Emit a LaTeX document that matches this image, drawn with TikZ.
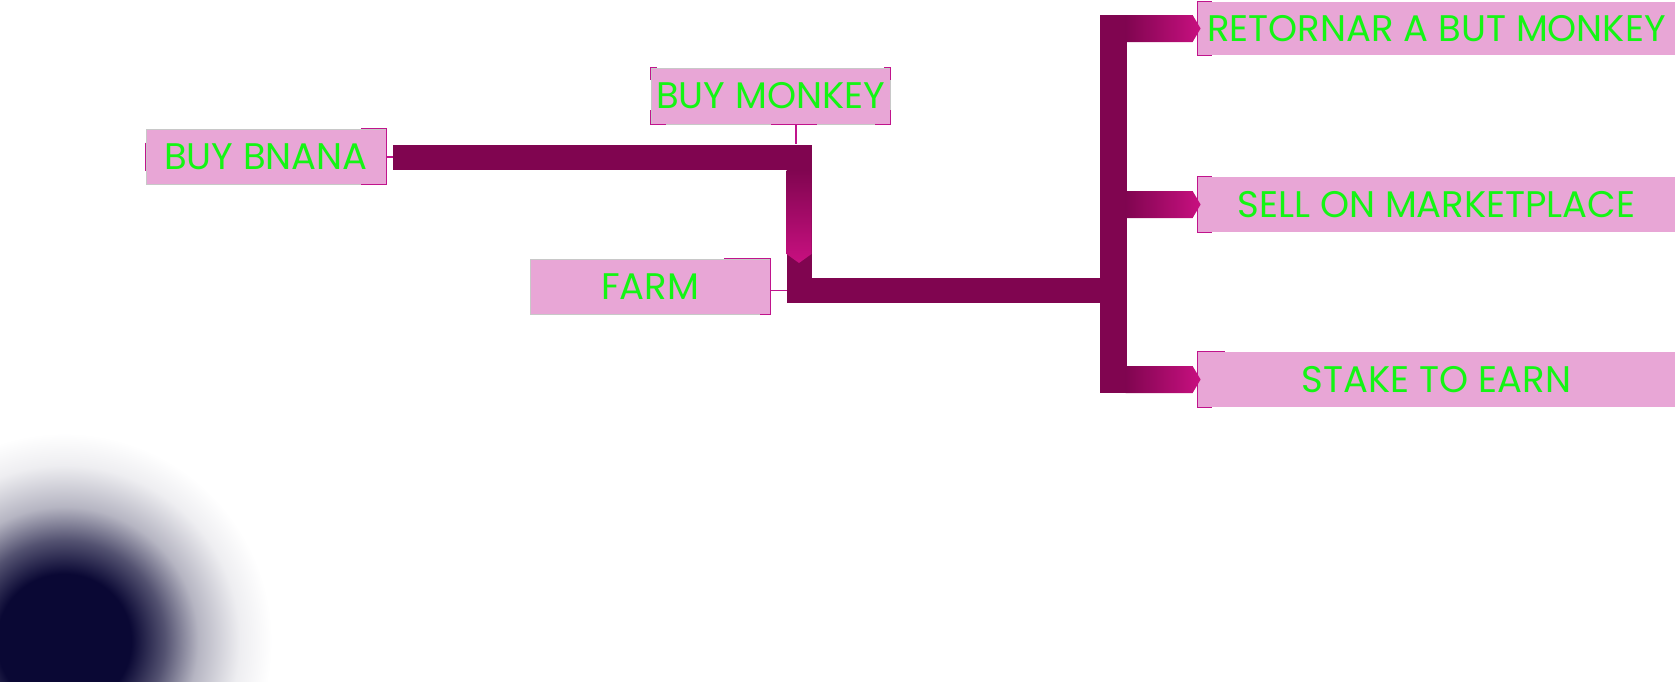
\documentclass[tikz,border=0pt]{standalone}
\usepackage{fontspec}
\setmainfont{Poppins}
\usetikzlibrary{calc}
\definecolor{boxpink}{RGB}{232,166,214}
\definecolor{bardark}{RGB}{128,5,80}
\definecolor{barmag}{RGB}{200,16,128}
\definecolor{brk}{RGB}{192,20,140}
\definecolor{txtgreen}{RGB}{20,245,20}
\definecolor{navyblob}{RGB}{10,8,52}
\definecolor{boxline}{RGB}{200,200,200}
\pgfdeclareradialshading{blob}{\pgfpoint{0bp}{0bp}}{color(0bp)=(navyblob); color(4.2bp)=(navyblob); color(6.3bp)=(navyblob!70); color(8.4bp)=(navyblob!30); color(11bp)=(navyblob!7); color(13bp)=(white); color(50bp)=(white)}
\begin{document}
\begin{tikzpicture}[x=1pt,y=-1pt,
  box/.style={draw=boxline, line width=0.8pt, fill=boxpink, inner sep=0pt,
    text=txtgreen, font=\fontsize{37}{42}\selectfont},
  brack/.style={draw=brk, line width=1.5pt},
  thinlink/.style={draw=brk, line width=1.5pt},
  bar/.style={draw=bardark, line join=miter},
  arrowshade/.style={left color=bardark, right color=barmag, draw=none}]
\useasboundingbox (0,0) rectangle (1676,681);
% background blob
\begin{scope}
\clip (0,0) rectangle (1676,681);
\shade[shading=blob] (64,641) circle (400pt);
\end{scope}

% nodes
\node[box, minimum width=240pt, minimum height=55pt] (bnana) at (266,156.5) {BUY BNANA};
\node[box, minimum width=239pt, minimum height=56pt] (bmonkey) at (770.5,96) {BUY MONKEY};
\node[box, minimum width=240pt, minimum height=55pt] (farm) at (650,286.5) {FARM};
\node[box, draw=none, minimum width=477pt, minimum height=53pt] (ret) at (1436.5,28.5) {RETORNAR A BUT MONKEY};
\node[box, draw=none, minimum width=477pt, minimum height=55pt] (sell) at (1436.5,204.5) {SELL ON MARKETPLACE};
\node[box, draw=none, minimum width=477pt, minimum height=55pt] (stake) at (1436.5,379.5) {STAKE TO EARN};

% junction coordinates
\coordinate (bstart) at (393,157);
\coordinate (j1) at (799,157);
\coordinate (j2) at (799,290.5);
\coordinate (hub) at (1113,290.5);

% brackets
\draw[brack] ([yshift=14pt]bnana.west) -- ([yshift=-14pt]bnana.west);
\draw[brack] ([xshift=-25pt]bnana.north east) -- (bnana.north east) -- (bnana.south east) -- ([xshift=-25pt]bnana.south east);

\draw[brack] ([xshift=6pt]bmonkey.north west) -- (bmonkey.north west) -- ([yshift=-12pt]bmonkey.north west);
\draw[brack] ([xshift=15pt]bmonkey.south west) -- (bmonkey.south west) -- ([yshift=14pt]bmonkey.south west);
\draw[brack] ([xshift=-6pt]bmonkey.north east) -- (bmonkey.north east) -- ([yshift=-12pt]bmonkey.north east);
\draw[brack] ([xshift=-15pt]bmonkey.south east) -- (bmonkey.south east) -- ([yshift=14pt]bmonkey.south east);
\draw[brack] ([xshift=0.5pt]bmonkey.south) -- ([xshift=46.5pt]bmonkey.south);

\draw[brack] ([xshift=-46pt]farm.north east) -- (farm.north east) -- (farm.south east) -- ([xshift=-10pt]farm.south east);

\foreach \n/\t in {ret/14,sell/14,stake/27}{
  \draw[brack] ([xshift=\t pt]\n.north west) -- (\n.north west) -- (\n.south west) -- ([xshift=14pt]\n.south west);
}

% thin links
\draw[thinlink] (bnana.east |- bstart) -- (bstart);
\draw[thinlink] ([xshift=25.5pt]bmonkey.south) -- ++(0,20);
\draw[thinlink] (farm.east |- j2) -- ++(17,0);

% main bars
\draw[bar, line width=25pt] (bstart) -- (j1) -- (j2) -- (hub);
\draw[bar, line width=27pt] ($(ret.west -| hub)+(16,0)$) -- (ret.west -| hub) -- (stake.west -| hub) -- ($(stake.west -| hub)+(16,0)$);

% gradient segment with chevron on vertical
\shade[top color=bardark, bottom color=barmag] (786.5,170) -- (811.5,170) -- (811.5,254) -- (799,263) -- (786.5,254) -- cycle;

% branch arrows
\foreach \n in {ret,sell,stake}{
  \shade[arrowshade] ($(\n.west)+(3,0)$) -- ++(-8,-13.5) -- ++(-67,0) -- ++(0,27) -- ++(67,0) -- cycle;
}
\end{tikzpicture}
\end{document}
